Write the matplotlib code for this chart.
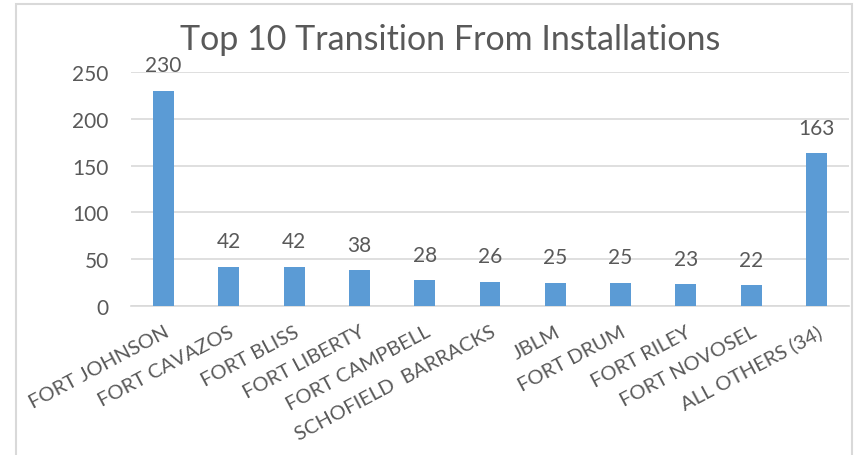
import matplotlib
matplotlib.use("Agg")
import matplotlib.pyplot as plt
from matplotlib.patches import Rectangle

categories = ["FORT JOHNSON", "FORT CAVAZOS", "FORT BLISS", "FORT LIBERTY", "FORT CAMPBELL",
              "SCHOFIELD  BARRACKS", "JBLM", "FORT DRUM", "FORT RILEY", "FORT NOVOSEL",
              "ALL OTHERS (34)"]
values = [230, 42, 42, 38, 28, 26, 25, 25, 23, 22, 163]
yticks = [0, 50, 100, 150, 200, 250]
title = "Top 10 Transition From Installations"

W, H = 856, 456
fig = plt.figure(figsize=(W/100, H/100), dpi=100)
plt.rcParams['font.family'] = ['Lato', 'DejaVu Sans']
txt = '#595959'

fig.patches.append(Rectangle((16/W, -0.1), (852-16)/W, (1 - 5/H) + 0.1,
                             transform=fig.transFigure, fill=False,
                             edgecolor='#D9D9D9', linewidth=1.5))

ax = fig.add_axes([131/W, 1-307/H, (849-131)/W, (307-73)/H])
x = list(range(len(categories)))
ax.bar(x, values, width=0.32, color='#5B9BD5', zorder=3)
ax.set_xlim(-0.5, len(categories)-0.5)
ax.set_ylim(0, 250)
ax.set_yticks(yticks)
ax.set_yticklabels([str(v) for v in yticks], fontsize=15, color=txt)
ax.grid(axis='y', color='#D9D9D9', linewidth=1.2, zorder=0)
for s in ['top', 'right', 'left']:
    ax.spines[s].set_visible(False)
ax.spines['bottom'].set_color('#D9D9D9')
ax.spines['bottom'].set_linewidth(1.2)
ax.tick_params(axis='both', length=0)
ax.tick_params(axis='y', pad=16)
ax.set_xticks(x)
ax.set_xticklabels(categories, rotation=28, ha='right', rotation_mode='anchor',
                   fontsize=14.5, color=txt)
ax.tick_params(axis='x', pad=12)

for xi, v in zip(x, values):
    ax.annotate(str(v), (xi, v), xytext=(0, 11), textcoords='offset points',
                ha='center', va='bottom', fontsize=15, color=txt)

fig.text(450/W, 1-40/H, title, ha='center', va='center', fontsize=24.5, color=txt)

fig.savefig('out.png', dpi=100)
